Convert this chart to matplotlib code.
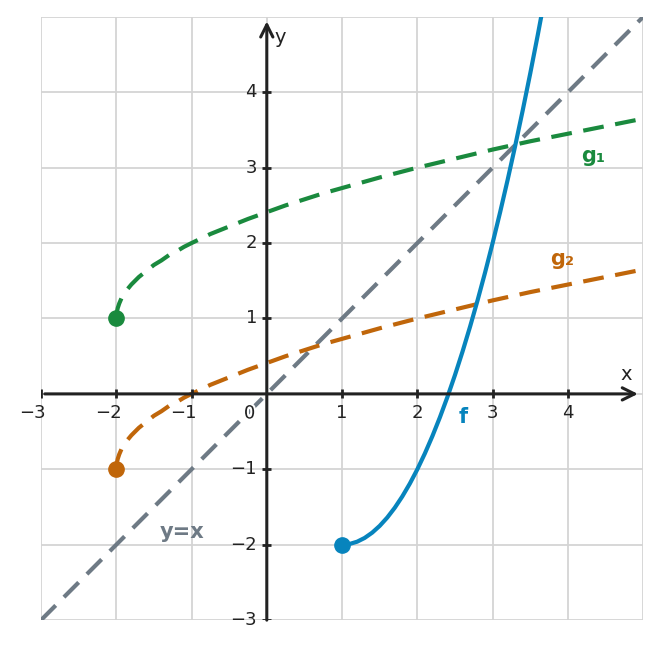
import matplotlib
matplotlib.use('Agg')
import matplotlib.pyplot as plt
import matplotlib.patheffects as pe

# Points
f_x = [1.0, 1.1, 1.2, 1.3, 1.4, 1.5, 1.6, 1.7, 1.8, 1.9, 2.0, 2.1, 2.2, 2.3, 2.4,
       2.5, 2.6, 2.7, 2.8, 2.9, 3.0, 3.1, 3.2, 3.3, 3.4, 3.5, 3.6, 3.7]
f_y = [-2.0, -1.99, -1.96, -1.91, -1.84, -1.75, -1.64, -1.51, -1.36, -1.19, -1.0,
       -0.79, -0.56, -0.31, -0.04, 0.25, 0.56, 0.89, 1.24, 1.61, 2.0, 2.41, 2.84,
       3.29, 3.76, 4.25, 4.76, 5.29]

g_x = [-2.0, -1.995, -1.98, -1.96, -1.93, -1.9, -1.85, -1.8, -1.7, -1.6, -1.5, -1.4,
       -1.3, -1.2, -1.1, -1.0, -0.75, -0.5, -0.25, 0.0, 0.25, 0.5, 0.75, 1.0, 1.5,
       2.0, 2.5, 3.0, 3.5, 4.0, 4.5, 5.0]
g1_y = [1.0, 1.07, 1.14, 1.2, 1.27, 1.32, 1.39, 1.45, 1.55, 1.63, 1.71, 1.77, 1.84,
        1.89, 1.95, 2.0, 2.12, 2.22, 2.32, 2.41, 2.5, 2.58, 2.66, 2.73, 2.87, 3.0,
        3.12, 3.24, 3.35, 3.45, 3.55, 3.65]
g2_y = [-1.0, -0.93, -0.86, -0.8, -0.73, -0.68, -0.61, -0.55, -0.45, -0.37, -0.29,
        -0.23, -0.16, -0.11, -0.05, 0.0, 0.12, 0.22, 0.32, 0.41, 0.5, 0.58, 0.66,
        0.73, 0.87, 1.0, 1.12, 1.24, 1.35, 1.45, 1.55, 1.65]

diag_x = [-3, 5]
diag_y = [-3, 5]

start_f = (1, -2)
start_g1 = (-2, 1)
start_g2 = (-2, -1)

x_ticks = [-3, -2, -1, 1, 2, 3, 4]
y_ticks = [-3, -2, -1, 1, 2, 3, 4]

BLUE = '#0784bd'
GREEN = '#1a8a3e'
ORANGE = '#c0660a'
GRAY = '#6e7a85'
AXIS = '#222222'

fig = plt.figure(figsize=(6.61, 6.48), dpi=100)
ax = fig.add_axes([0.062, 0.043, 0.911, 0.931])
ax.set_xlim(-3, 5)
ax.set_ylim(-3, 5)

# grid
for v in range(-3, 6):
    ax.axvline(v, color='#d4d4d4', lw=1.3, zorder=0)
    ax.axhline(v, color='#d4d4d4', lw=1.3, zorder=0)

for s in ax.spines.values():
    s.set_visible(False)
ax.set_xticks([])
ax.set_yticks([])

# axes with arrows
ax.annotate('', xy=(4.93, 0), xytext=(-2.95, 0),
            arrowprops=dict(arrowstyle='->', lw=2.2, color=AXIS, mutation_scale=22,
                            shrinkA=0, shrinkB=0), zorder=3)
ax.annotate('', xy=(0, 4.94), xytext=(0, -3),
            arrowprops=dict(arrowstyle='->', lw=2.2, color=AXIS, mutation_scale=22,
                            shrinkA=0, shrinkB=0), zorder=3)

tl = 0.06
for t in x_ticks:
    ax.plot([t, t], [-tl, tl], color=AXIS, lw=2, zorder=3, solid_capstyle='butt')
    # negative labels keep the digit under the tick, the minus hangs left
    xpos = t - 0.11 if t < 0 else t
    ax.text(xpos, -0.14, '\u2212%d' % -t if t < 0 else str(t), ha='center', va='top',
            fontsize=13, color=AXIS)
for t in y_ticks:
    ax.plot([-tl, tl], [t, t], color=AXIS, lw=2, zorder=3, solid_capstyle='butt')
    ax.text(-0.13, t, '\u2212%d' % -t if t < 0 else str(t), ha='right', va='center',
            fontsize=13, color=AXIS)
ax.text(-0.23, -0.14, '0', ha='center', va='top', fontsize=13, color=AXIS, zorder=4,
        path_effects=[pe.withStroke(linewidth=3, foreground='white')])

ax.text(4.78, 0.13, 'x', ha='center', va='bottom', fontsize=14, color=AXIS)
ax.text(0.1, 4.73, 'y', ha='left', va='center', fontsize=14, color=AXIS)

# curves
dash = (0, (5, 2.8))
ax.plot(diag_x, diag_y, color=GRAY, lw=3, ls=dash, zorder=2)
ax.plot(g_x, g1_y, color=GREEN, lw=3, ls=dash, zorder=2, solid_joinstyle='round')
ax.plot(g_x, g2_y, color=ORANGE, lw=3, ls=dash, zorder=2, solid_joinstyle='round')
ax.plot(f_x, f_y, color=BLUE, lw=3, zorder=2, solid_joinstyle='round')

ax.plot(*start_f, 'o', color=BLUE, ms=11, zorder=5)
ax.plot(*start_g1, 'o', color=GREEN, ms=11, zorder=5)
ax.plot(*start_g2, 'o', color=ORANGE, ms=11, zorder=5)

bold = dict(fontsize=15, fontweight='bold', ha='center', va='center')
ax.text(4.33, 3.16, 'g\u2081', color=GREEN, **bold)
ax.text(3.92, 1.79, 'g\u2082', color=ORANGE, **bold)
ax.text(2.61, -0.31, 'f', color=BLUE, **bold)
ax.text(-1.12, -1.83, 'y=x', color=GRAY, **bold)

fig.savefig('out.png', dpi=100)
